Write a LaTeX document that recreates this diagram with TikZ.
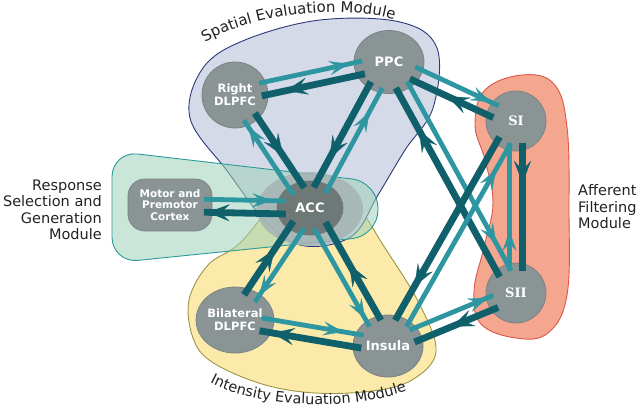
\documentclass[tikz,border=0pt]{standalone}
\usepackage{fontspec}
\setmainfont{DejaVu Sans}
\newfontfamily\siffont{DejaVu Serif}
\usetikzlibrary{shapes.geometric,arrows.meta,decorations.markings,decorations.text,calc}
\definecolor{darkteal}{HTML}{10606C}
\definecolor{lightteal}{HTML}{2E96A0}
\definecolor{nodegray}{HTML}{8A9494}
\definecolor{nodeedge}{HTML}{7A8484}
\definecolor{accgray}{HTML}{6E7877}
\definecolor{spfill}{HTML}{D5DAE8}
\definecolor{spedge}{HTML}{2C3A7A}
\definecolor{infill}{HTML}{FBEAAA}
\definecolor{inedge}{HTML}{9C9448}
\definecolor{rsfill}{HTML}{9FD2B8}
\definecolor{rsedge}{HTML}{2A9A9C}
\definecolor{affill}{HTML}{F5A68F}
\definecolor{afedge}{HTML}{D9574A}
\definecolor{halo}{HTML}{A6B4B4}
\definecolor{labelink}{HTML}{222222}
\tikzset{
  region/.style={line width=0.9pt},
  brain/.style={ellipse, fill=nodegray, draw=nodeedge, line width=0.8pt, inner sep=0pt,
    text=white, align=center, font=\bfseries\fontsize{11.5}{13}\selectfont},
  bigtext/.style={font=\bfseries\fontsize{13}{14}\selectfont},
  sitext/.style={font=\siffont\bfseries\fontsize{13}{14}\selectfont},
  modlabel/.style={inner sep=0pt, text=labelink, font=\fontsize{14.5}{16.5}\selectfont},
  darkarr/.style={draw=darkteal, line width=6.8pt, postaction={decorate},
    decoration={markings, mark=at position #1 with {\arrow{Stealth[length=22pt,width=17pt,inset=9pt,line width=0.2pt]}}}},
  lightarr/.style={draw=lightteal, line width=4.8pt, postaction={decorate},
    decoration={markings, mark=at position #1 with {\arrow{Stealth[length=20pt,width=14pt,inset=8pt,line width=0.2pt]}}}},
}
\newcommand\flow[7]{\draw[#1=#7, shorten <=#5, shorten >=#6] ($(#2)!#4!90:(#3)$) -- ($(#3)!#4!-90:(#2)$);}
\begin{document}
\begin{tikzpicture}[x=1pt,y=-1pt]
\fill[white] (0,0) rectangle (640,413);
\useasboundingbox (0,0) rectangle (640,413);
% regions
\draw[region, fill=affill, draw=afedge] plot[smooth cycle, tension=0.65] coordinates {(522,75) (554,84) (567,127) (569,210) (567,295) (548,333) (516,338) (481,324) (474,291) (484,247) (493,203) (485,160) (475,125) (485,90)};
\draw[region, fill=infill, draw=inedge] plot[smooth cycle, tension=0.6] coordinates {(282,195) (240,243) (208,265) (189,300) (193,338) (212,362) (262,384) (315,393) (372,391) (412,380) (436,352) (420,305) (385,248) (352,200) (315,185)};
\draw[region, fill=spfill, draw=spedge] plot[smooth cycle, tension=0.6] coordinates {(190,118) (203,68) (245,40) (320,20) (400,22) (437,48) (433,108) (405,150) (378,195) (352,236) (305,246) (268,224) (228,172)};
\draw[region, fill=rsfill, fill opacity=0.55, draw=rsedge, rounded corners=26pt] (245,166.5) -- (378,182) -- (378,236) -- (112,263) -- (112,151) -- cycle;
\fill[halo, opacity=0.85] (310,209) ellipse [x radius=53, y radius=37];
% nodes
\node[brain, minimum width=66pt, minimum height=66pt] (rd) at (235,95) {Right\\DLPFC};
\node[brain, bigtext, minimum width=70pt, minimum height=63pt] (ppc) at (389,62) {PPC};
\node[brain, bigtext, fill=accgray, draw=accgray, minimum width=66pt, minimum height=54pt] (acc) at (310,208) {ACC};
\node[brain, rectangle, rounded corners=17pt, minimum width=84pt, minimum height=52pt,
  font=\bfseries\fontsize{10.5}{11.5}\selectfont] (mot) at (170,205) {Motor and\\Premotor\\Cortex};
\node[brain, sitext, minimum width=60pt, minimum height=60pt] (si) at (516,121) {SI};
\node[brain, sitext, minimum width=60pt, minimum height=60pt] (sii) at (516,293) {SII};
\node[brain, minimum width=66pt, minimum height=66pt] (bd) at (235,320) {Bilateral\\DLPFC};
\node[brain, bigtext, minimum width=70pt, minimum height=62pt] (ins) at (388,346) {Insula};
% connections
\flow{lightarr}{rd}{ppc}{6.5pt}{26pt}{26pt}{0.75}
\flow{darkarr}{ppc}{rd}{6.5pt}{26pt}{26pt}{0.68}
\flow{darkarr}{rd}{acc}{6.5pt}{26pt}{20pt}{0.57}
\flow{lightarr}{acc}{rd}{6.5pt}{20pt}{26pt}{0.75}
\flow{darkarr}{ppc}{acc}{-6.5pt}{26pt}{20pt}{0.68}
\flow{lightarr}{acc}{ppc}{-6.5pt}{20pt}{26pt}{0.68}
\flow{lightarr}{ppc}{si}{6.5pt}{26pt}{22pt}{0.78}
\flow{darkarr}{si}{ppc}{6.5pt}{22pt}{26pt}{0.52}
\flow{lightarr}{ppc}{sii}{6.5pt}{26pt}{22pt}{0.8}
\flow{darkarr}{sii}{ppc}{6.5pt}{22pt}{26pt}{0.72}
\flow{lightarr}{mot}{acc}{6.5pt}{34pt}{24pt}{0.73}
\flow{darkarr}{acc}{mot}{6.5pt}{24pt}{34pt}{0.73}
\flow{darkarr}{bd}{acc}{6.5pt}{26pt}{20pt}{0.6}
\flow{lightarr}{acc}{bd}{6.5pt}{20pt}{26pt}{0.75}
\flow{darkarr}{ins}{acc}{-6.5pt}{26pt}{20pt}{0.57}
\flow{lightarr}{acc}{ins}{-6.5pt}{20pt}{26pt}{0.78}
\flow{lightarr}{bd}{ins}{6.5pt}{26pt}{26pt}{0.7}
\flow{darkarr}{ins}{bd}{6.5pt}{26pt}{26pt}{0.75}
\flow{darkarr}{si}{ins}{-6.5pt}{22pt}{26pt}{0.75}
\flow{lightarr}{ins}{si}{-6.5pt}{26pt}{22pt}{0.8}
\flow{lightarr}{ins}{sii}{6.5pt}{26pt}{22pt}{0.8}
\flow{darkarr}{sii}{ins}{6.5pt}{22pt}{26pt}{0.52}
\flow{darkarr}{si}{sii}{6.5pt}{22pt}{22pt}{0.36}
\flow{lightarr}{sii}{si}{6.5pt}{22pt}{22pt}{0.36}
% module labels
\node[modlabel, align=right, anchor=east] (rsg) at (102,210) {Response\\Selection and\\Generation\\Module};
\node[modlabel, align=left, anchor=west] (afm) at (578,207) {Afferent\\Filtering\\Module};
\path[decorate, decoration={text along path, text align=center,
  text={|\fontsize{15}{15}\selectfont\color{labelink}|Spatial Evaluation Module}}]
  (198,47) .. controls (245,14) and (345,2) .. (402,22);
\path[decorate, decoration={text along path, text align=center,
  text={|\fontsize{14.5}{14.5}\selectfont\color{labelink}|Intensity Evaluation Module}}]
  (205,380) .. controls (250,407) and (350,414) .. (412,389);
\end{tikzpicture}
\end{document}
